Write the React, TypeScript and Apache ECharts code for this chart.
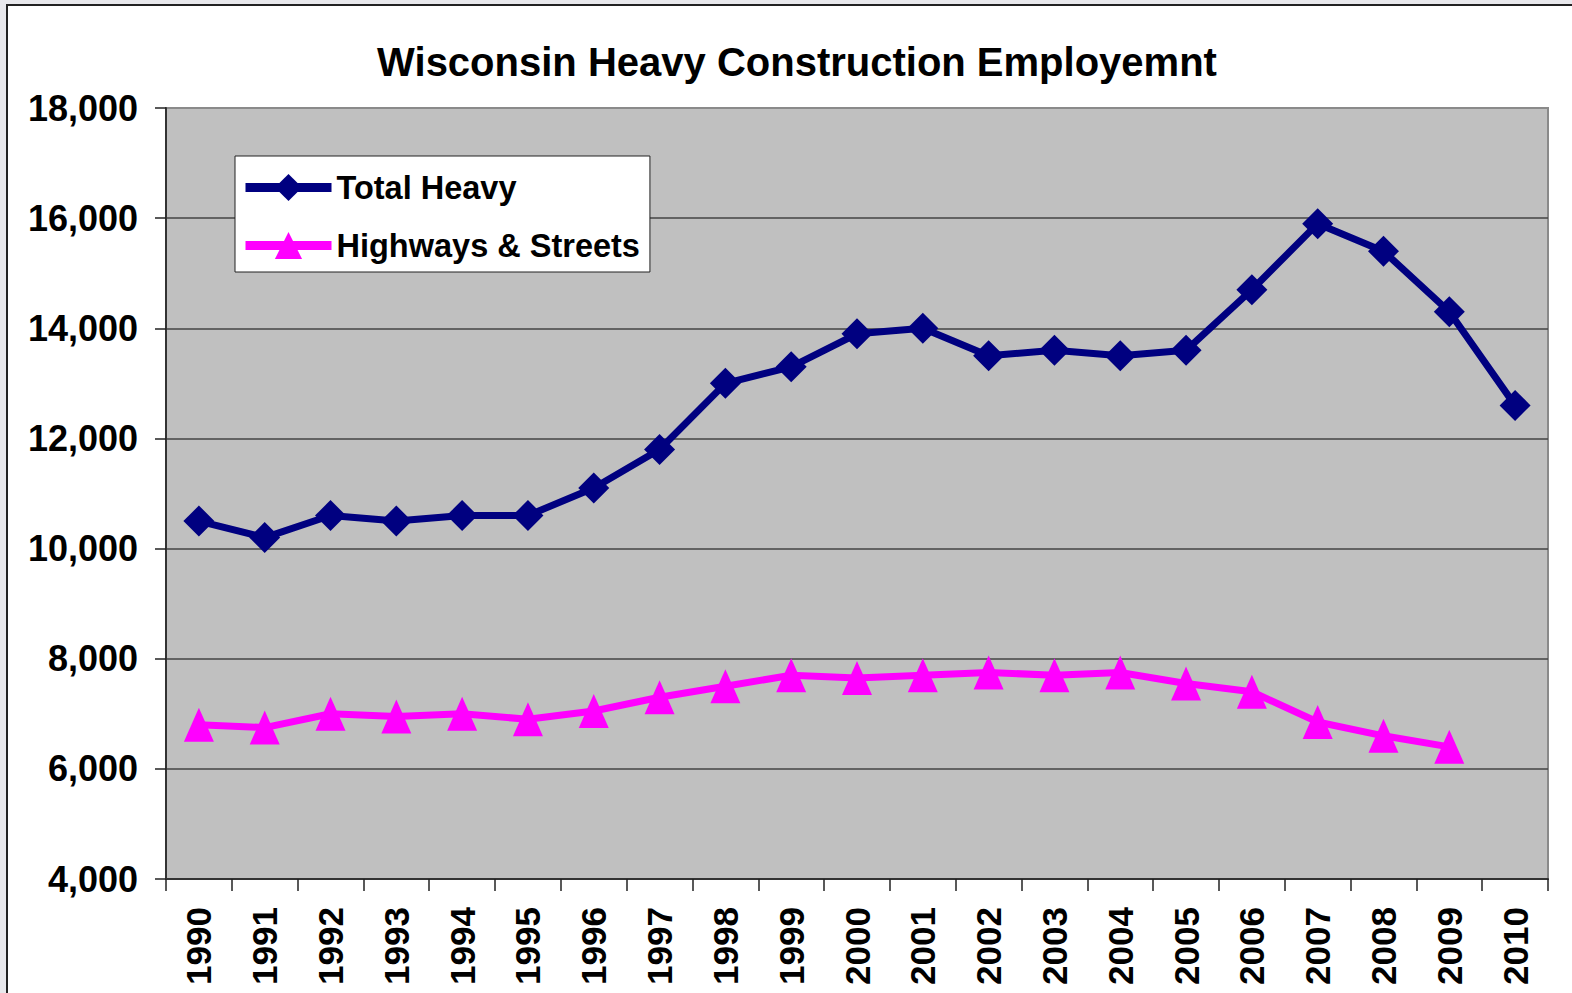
import React, { useEffect, useRef } from "react";
import * as echarts from "echarts";

const years = ["1990","1991","1992","1993","1994","1995","1996","1997","1998","1999","2000","2001","2002","2003","2004","2005","2006","2007","2008","2009","2010"];
const totalHeavy = [10500,10200,10600,10500,10600,10600,11100,11800,13000,13300,13900,14000,13500,13600,13500,13600,14700,15900,15400,14300,12600];
const highways = [6800,6750,7000,6950,7000,6900,7050,7300,7500,7700,7650,7700,7750,7700,7750,7550,7400,6850,6600,6400,null];

const FONT = "'Liberation Sans', Arial, sans-serif";

export default function App() {
  const ref = useRef<HTMLDivElement>(null);
  useEffect(() => {
    if (!ref.current) return;
    const chart = echarts.init(ref.current, undefined, { renderer: "svg" });
    chart.setOption({
      animation: false,
      backgroundColor: "transparent",
      textStyle: { fontFamily: FONT },
      title: {
        text: "Wisconsin Heavy Construction Employemnt",
        left: 792,
        textAlign: "center",
        top: 37,
        textStyle: { fontFamily: FONT, fontSize: 40, fontWeight: "bold", color: "#000" },
      },
      legend: {
        orient: "vertical",
        left: 235,
        top: 156,
        padding: [15, 10, 10, 6],
        itemWidth: 86,
        itemHeight: 34,
        itemGap: 25,
        backgroundColor: "#fff",
        borderColor: "#222",
        borderWidth: 1,
        lineStyle: { width: 9 },
        textStyle: { fontFamily: FONT, fontSize: 32.5, fontWeight: "bold", color: "#000" },
        data: ["Total Heavy", "Highways & Streets"],
      },
      grid: {
        left: 166,
        top: 108,
        right: 24,
        bottom: 114,
        show: true,
        backgroundColor: "#c0c0c0",
        borderColor: "#8a8a8a",
        borderWidth: 2,
      },
      xAxis: {
        type: "category",
        data: years,
        boundaryGap: true,
        axisLine: { lineStyle: { color: "#333", width: 2 } },
        axisTick: { show: true, length: 12, lineStyle: { color: "#222", width: 1.5 } },
        axisLabel: {
          rotate: 90,
          margin: 28,
          interval: 0,
          fontFamily: FONT,
          fontSize: 35,
          fontWeight: "bold",
          color: "#000",
        },
      },
      yAxis: {
        type: "value",
        min: 4000,
        max: 18000,
        interval: 2000,
        axisLine: { show: true, lineStyle: { color: "#333", width: 2 } },
        axisTick: { show: true, length: 11, lineStyle: { color: "#222", width: 1.5 } },
        axisLabel: {
          margin: 28,
          fontFamily: FONT,
          fontSize: 36,
          fontWeight: "bold",
          color: "#000",
          formatter: (v: number) => v.toLocaleString("en-US"),
        },
        splitLine: {
          show: true,
          lineStyle: {
            color: ["#444", "#444", "#444", "#444", "#444", "#444", "#444", "#8a8a8a"],
            width: 1.5,
          },
        },
      },
      series: [
        {
          name: "Total Heavy",
          type: "line",
          data: totalHeavy,
          symbol: "diamond",
          symbolSize: [31, 31],
          lineStyle: { color: "#000080", width: 7 },
          itemStyle: { color: "#000080" },
          z: 3,
        },
        {
          name: "Highways & Streets",
          type: "line",
          data: highways,
          symbol: "triangle",
          symbolSize: [30, 34],
          lineStyle: { color: "#ff00ff", width: 7 },
          itemStyle: { color: "#ff00ff" },
          z: 2,
        },
      ],
    });
    return () => chart.dispose();
  }, []);

  return (
    <div style={{ position: "fixed", left: 0, top: 0, width: 1572, height: 993, background: "#e8e8ec", overflow: "hidden" }}>
      <div style={{ position: "absolute", left: 6, top: 4, width: 1700, height: 1100, background: "#fff", borderTop: "2px solid #222", borderLeft: "2px solid #222" }} />
      <div ref={ref} style={{ position: "absolute", left: 0, top: 0, width: 1572, height: 993 }} />
    </div>
  );
}
